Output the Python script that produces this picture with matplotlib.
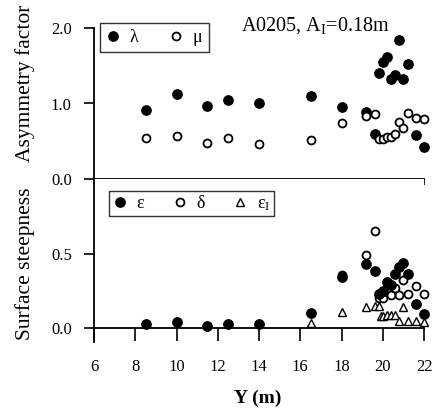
import numpy as np
import matplotlib
matplotlib.use("Agg")
import matplotlib.pyplot as plt

plt.rcParams['font.family'] = ['Liberation Serif', 'DejaVu Serif']
plt.rcParams['mathtext.fontset'] = 'custom'
plt.rcParams['mathtext.rm'] = 'Liberation Serif'
plt.rcParams['mathtext.it'] = 'Liberation Serif:italic'

# ---- data ----
Y_top = [8.5, 10, 11.5, 12.5, 14, 16.5, 18, 19.2, 19.6, 19.8, 20.0, 20.2, 20.4, 20.6, 20.8, 21.0, 21.2, 21.6, 22.0]
lam   = [0.91, 1.13, 0.97, 1.05, 1.01, 1.10, 0.96, 0.89, 0.60, 1.41, 1.55, 1.62, 1.33, 1.38, 1.84, 1.32, 1.52, 0.58, 0.42]
mu    = [0.54, 0.57, 0.48, 0.54, 0.46, 0.52, 0.74, 0.83, 0.86, 0.53, 0.53, 0.55, 0.56, 0.60, 0.75, 0.67, 0.87, 0.81, 0.79]

Y_bot = [8.5, 10, 11.5, 12.5, 14, 16.5, 18, 19.2, 19.6, 19.8, 20.0, 20.2, 20.4, 20.6, 20.8, 21.0, 21.2, 21.6, 22.0]
eps   = [0.027, 0.042, 0.016, 0.030, 0.030, 0.10, 0.345, 0.43, 0.38, 0.23, 0.25, 0.31, 0.29, 0.36, 0.41, 0.435, 0.36, 0.165, 0.093]
delta = [0.027, 0.042, 0.016, 0.030, 0.030, 0.10, 0.355, 0.49, 0.65, 0.20, 0.20, 0.24, 0.22, 0.27, 0.22, 0.32, 0.23, 0.28, 0.23]

Y_ei  = [16.5, 18, 19.2, 19.6, 19.8, 19.9, 20.0, 20.2, 20.4, 20.6, 20.8, 21.0, 21.2, 21.6, 22.0]
eps_I = [0.035, 0.11, 0.14, 0.15, 0.15, 0.08, 0.08, 0.085, 0.085, 0.09, 0.05, 0.14, 0.045, 0.045, 0.04]

xticks = [6, 8, 10, 12, 14, 16, 18, 20, 22]

W, H = 444, 419
fig = plt.figure(figsize=(W/100, H/100), dpi=100)
L, R = 94, 424
axT = fig.add_axes([L/W, 1-179/H, (R-L)/W, (179-28)/H])
axB = fig.add_axes([L/W, 1-342/H, (R-L)/W, (342-179)/H])

filled = dict(ls='none', marker='o', ms=6.7, mfc='k', mec='k', clip_on=False)
opened = dict(ls='none', marker='o', ms=5.7, mfc='white', mec='k', mew=1.3, clip_on=False)
tri = dict(ls='none', marker='^', ms=5.8, mfc='white', mec='k', mew=1.0, clip_on=False)

# top panel
axT.plot(Y_top, lam, label='λ', **filled)
axT.plot(Y_top, mu, label='μ', **opened)
axT.set_xlim(6, 22); axT.set_ylim(0, 2.0)
axT.set_yticks([0, 1, 2]); axT.set_yticklabels(['0.0', '1.0', '2.0'])
axT.set_xticks(xticks); axT.set_xticklabels([])
for s in ['top', 'right']: axT.spines[s].set_visible(False)
for s in ['left', 'bottom']: axT.spines[s].set_linewidth(1.3)
axT.tick_params(axis='y', direction='out', length=7, width=1.2, pad=9, labelsize=12)
axT.tick_params(axis='x', direction='out', length=4.5, width=1.2)
leg = axT.legend(loc='upper left', bbox_to_anchor=(0.018, 1.035), ncol=2, fontsize=13, frameon=True,
                 fancybox=False, handlelength=0.8, handletextpad=0.5, columnspacing=1.7,
                 borderpad=0.35, borderaxespad=0.0)
leg.get_frame().set_edgecolor('k'); leg.get_frame().set_linewidth(1.0)
axT.set_title(r'A0205, A$_\mathregular{I}$=0.18m', fontsize=14.5, x=0.67, y=0.98, pad=0)

# bottom panel
axB.plot(Y_bot, delta, label='δ', **opened)
axB.plot(Y_bot, eps, label='ε', **filled)
axB.plot(Y_ei, eps_I, label=r'ε$_\mathregular{I}$', **tri)
axB.set_xlim(6, 22); axB.set_ylim(-0.093, 1.0)
axB.set_yticks([0, 0.5]); axB.set_yticklabels(['0.0', '0.5'])
axB.set_xticks(xticks); axB.set_xticklabels([str(t) for t in xticks])
for s in ['top', 'right']: axB.spines[s].set_visible(False)
axB.spines['bottom'].set_position(('data', 0))
for s in ['left', 'bottom']: axB.spines[s].set_linewidth(1.3)
axB.tick_params(axis='y', direction='out', length=7, width=1.2, pad=9, labelsize=12)
axB.tick_params(axis='x', direction='out', length=9.5, width=1.2, pad=13, labelsize=12)
h, l = axB.get_legend_handles_labels()
order = [1, 0, 2]
legB = axB.legend([h[i] for i in order], [l[i] for i in order], loc='upper left',
                  bbox_to_anchor=(0.045, 0.925), ncol=3, fontsize=13, frameon=True, fancybox=False,
                  handlelength=0.8, handletextpad=0.5, columnspacing=1.6, borderpad=0.2, borderaxespad=0.0)
legB.get_frame().set_edgecolor('k'); legB.get_frame().set_linewidth(1.0)

fig.text(25/W, 1-83/H, 'Asymmetry factor', rotation=90, ha='center', va='center', fontsize=15.5)
fig.text(25/W, 1-264/H, 'Surface steepness', rotation=90, ha='center', va='center', fontsize=15.5)
fig.text(258/W, 1-398/H, 'Y (m)', ha='center', va='center', fontsize=14, fontweight='bold')

fig.savefig('out.png', dpi=100)
